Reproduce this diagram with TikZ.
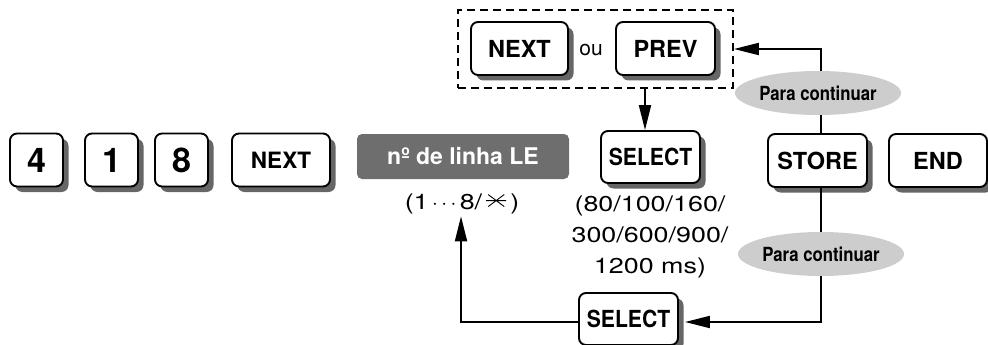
\documentclass[tikz,border=0pt]{standalone}
\usepackage{fontspec}
\setmainfont{TeX Gyre Heros}
\newfontfamily\widefont[FakeStretch=1.25]{TeX Gyre Heros}
\newfontfamily\condfont[FakeStretch=0.86]{TeX Gyre Heros}
\newfontfamily\selfont[FakeStretch=0.9]{TeX Gyre Heros}
\usetikzlibrary{shapes.geometric,shadows,arrows.meta}
\definecolor{shadowgray}{HTML}{666666}
\definecolor{legray}{HTML}{6E6E6E}
\definecolor{ellgray}{HTML}{CDCDCD}
\newcommand{\sxt}{\tikz[baseline={(0pt,-9pt)}]{\draw[line width=0.9pt] (-10pt,0pt) -- (10pt,0pt) (-8pt,-6pt) -- (8pt,6pt) (-8pt,6pt) -- (8pt,-6pt);}}
\begin{document}
\begin{tikzpicture}[x=1pt,y=-1pt,
  keybox/.style={draw, line width=1.9pt, rounded corners=7pt, fill=white, inner sep=0pt,
    minimum height=53pt,
    drop shadow={shadow xshift=5.5pt, shadow yshift=-5.5pt, fill=shadowgray, opacity=1}},
  digitkey/.style={keybox, minimum width=53pt, font=\bfseries\fontsize{34}{40}\selectfont},
  wordkey/.style={keybox, minimum width=98pt, font=\bfseries\fontsize{23.5}{28}\selectfont},
  selkey/.style={keybox, minimum width=99pt, minimum height=52pt, font=\selfont\bfseries\fontsize{23.5}{28}\selectfont},
  lebox/.style={fill=legray, rounded corners=5pt, minimum width=212pt, minimum height=45pt, inner sep=0pt,
    text=white, font=\bfseries\fontsize{23}{27}\selectfont},
  ellip/.style={ellipse, fill=ellgray, minimum width=143pt, minimum height=44pt, inner sep=0pt,
    font=\condfont\bfseries\fontsize{19.5}{23}\selectfont},
  plain/.style={inner sep=0pt, font=\widefont\fontsize{21.5}{31}\selectfont},
  arr/.style={line width=1.9pt, -{Triangle[length=25pt,width=12pt]}},
  dbox/.style={draw, line width=1.8pt, dash pattern=on 8pt off 5pt, minimum width=275pt, minimum height=78pt, inner sep=0pt}
]
\useasboundingbox (0,0) rectangle (988,345);

% dashed group
\node[dbox] (dgroup) at (595.5,49) {};
\node[wordkey, minimum width=97pt] (nextb) at (519.5,48.5) {NEXT};
\node[inner sep=0pt, font=\fontsize{21}{25}\selectfont] (ou) at (591,50) {ou};
\node[wordkey, minimum width=99pt] (prev) at (665.5,48.5) {PREV};

% main row
\node[digitkey] (k4) at (36.5,160) {4};
\node[digitkey] (k1) at (111.5,160) {1};
\node[digitkey] (k8) at (181.5,160) {8};
\node[wordkey, font=\bfseries\fontsize{22.5}{26}\selectfont] (nexta) at (281,160) {NEXT};
\node[lebox] (le) at (463,156.5) {nº de linha LE};
\node[plain] (range) at (462,204) {(1$\,\cdots\,$8/\,\sxt\,)};
\node[selkey] (sel1) at (650.5,157) {SELECT};
\node[plain, align=center] (vals) at (650,237) {(80/100/160/\\300/600/900/\\1200 ms)};
\node[wordkey, minimum width=99pt] (store) at (817.5,160.5) {STORE};
\node[wordkey] (endk) at (938,160.5) {END};
\node[selkey] (sel2) at (628.5,319) {SELECT};

% connectors
\coordinate (tr) at (821,49);
\coordinate (br) at (821,322);
\coordinate (bl) at (461,322);
\coordinate (sel2r) at ([xshift=6pt]sel2.east);
\draw[arr] (dgroup.south -| 645,0) -- (sel1.north -| 645,0);
\draw[arr] (store.north -| tr) -- (tr) -- (tr -| dgroup.east);
\draw[arr] (store.south -| br) -- (br) -- (br -| sel2r);
\draw[arr] (sel2.west |- br) -- (bl) -- ([yshift=-2pt]range.south -| bl);

% labels on the loop
\node[ellip] (e1) at (818,93) {Para continuar};
\node[ellip] (e2) at (821,254) {Para continuar};
\end{tikzpicture}
\end{document}
